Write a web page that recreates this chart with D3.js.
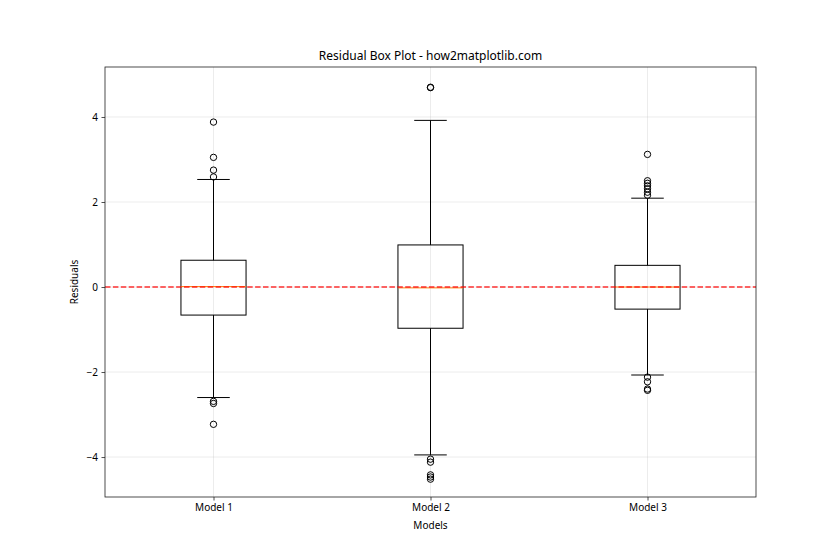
<!DOCTYPE html>
<html>
<head>
<meta charset="utf-8">
<script src="https://cdn.jsdelivr.net/npm/d3@7"></script>
<style>
  body { margin: 0; background: #fff; }
  text { font-family: "Noto Sans", "DejaVu Sans", sans-serif; fill: #000; }
</style>
</head>
<body>
<div id="chart"></div>
<script>
// box statistics
const models = ["Model 1", "Model 2", "Model 3"];
const q1 = [-0.66, -0.97, -0.52];
const medians = [0.01, -0.02, 0.0];
const q3 = [0.63, 0.99, 0.51];
const whiskLow = [-2.60, -3.95, -2.07];
const whiskHigh = [2.53, 3.92, 2.09];
const outliers = [
    [3.88, 3.05, 2.75, 2.59, -2.69, -2.74, -3.23],
    [4.69, 4.70, -4.05, -4.12, -4.42, -4.47, -4.52],
    [3.12, 2.50, 2.44, 2.38, 2.31, 2.23, 2.16, -2.12, -2.23, -2.40, -2.43]
];
const yTicks = [-4, -2, 0, 2, 4];

function drawBoxPlot() {
    let width = 840, height = 560;
    let margin = {top: 67, right: 84, bottom: 63, left: 105};
    let w = width - margin.left - margin.right;
    let h = height - margin.top - margin.bottom;

    let svg = d3.select('#chart')
        .append('svg')
        .attr('width', width)
        .attr('height', height)
        .append('g')
        .attr('transform', "translate(" + margin.left + "," + margin.top + ")");

    let x = d3.scaleLinear().domain([0.5, 3.5]).range([0, w]);
    let y = d3.scaleLinear().domain([-4.94, 5.176]).range([h, 0]);
    let boxW = x(0.3) - x(0);

    // grid
    svg.append('g').selectAll('line').data(yTicks).enter().append('line')
        .attr('x1', 0).attr('x2', w)
        .attr('y1', d => y(d)).attr('y2', d => y(d))
        .attr('stroke', '#b0b0b0').attr('stroke-opacity', 0.3).attr('stroke-width', 0.8);
    svg.append('g').selectAll('line').data([1, 2, 3]).enter().append('line')
        .attr('x1', d => x(d)).attr('x2', d => x(d))
        .attr('y1', 0).attr('y2', h)
        .attr('stroke', '#b0b0b0').attr('stroke-opacity', 0.3).attr('stroke-width', 0.8);

    let boxes = svg.selectAll('.box').data(models).enter().append('g').attr('class', 'box');

    // whiskers
    boxes.append('line')
        .attr('x1', (d, i) => x(i + 1)).attr('x2', (d, i) => x(i + 1))
        .attr('y1', (d, i) => y(q3[i])).attr('y2', (d, i) => y(whiskHigh[i]))
        .attr('stroke', 'black');
    boxes.append('line')
        .attr('x1', (d, i) => x(i + 1)).attr('x2', (d, i) => x(i + 1))
        .attr('y1', (d, i) => y(q1[i])).attr('y2', (d, i) => y(whiskLow[i]))
        .attr('stroke', 'black');
    // caps
    [whiskHigh, whiskLow].forEach(arr => {
        boxes.append('line')
            .attr('x1', (d, i) => x(i + 1) - boxW / 4).attr('x2', (d, i) => x(i + 1) + boxW / 4)
            .attr('y1', (d, i) => y(arr[i])).attr('y2', (d, i) => y(arr[i]))
            .attr('stroke', 'black');
    });
    // box
    boxes.append('rect')
        .attr('x', (d, i) => x(i + 1) - boxW / 2)
        .attr('y', (d, i) => y(q3[i]))
        .attr('width', boxW)
        .attr('height', (d, i) => y(q1[i]) - y(q3[i]))
        .attr('fill', 'none').attr('stroke', 'black');
    // median
    boxes.append('line')
        .attr('x1', (d, i) => x(i + 1) - boxW / 2).attr('x2', (d, i) => x(i + 1) + boxW / 2)
        .attr('y1', (d, i) => y(medians[i])).attr('y2', (d, i) => y(medians[i]))
        .attr('stroke', '#ff7f0e');
    // fliers
    boxes.each(function(d, i) {
        d3.select(this).selectAll('circle').data(outliers[i]).enter().append('circle')
            .attr('cx', x(i + 1)).attr('cy', v => y(v)).attr('r', 3.2)
            .attr('fill', 'none').attr('stroke', 'black').attr('stroke-width', 1);
    });

    // zero line
    svg.append('line')
        .attr('x1', 0).attr('x2', w)
        .attr('y1', y(0)).attr('y2', y(0))
        .attr('stroke', 'red').attr('stroke-opacity', 0.8)
        .attr('stroke-width', 1.5).attr('stroke-dasharray', '5.5,2.4');

    // axes
    let xAxis = svg.append('g')
        .attr('transform', "translate(0," + h + ")")
        .call(d3.axisBottom(x).tickValues([1, 2, 3]).tickFormat((d, i) => models[i]).tickSize(3.5).tickPadding(3.5));
    let yAxis = svg.append('g')
        .call(d3.axisLeft(y).tickValues(yTicks).tickFormat(d => d < 0 ? "\u2212" + Math.abs(d) : d).tickSize(3.5).tickPadding(3.5));
    [xAxis, yAxis].forEach(a => {
        a.select('.domain').remove();
        a.selectAll('text').style('font-size', '10px');
        a.selectAll('line').attr('stroke', '#222').attr('stroke-width', 0.8);
    });

    svg.append('rect')
        .attr('width', w).attr('height', h)
        .attr('fill', 'none').attr('stroke', '#222').attr('stroke-width', 0.8);

    svg.append('text')
        .attr('x', w / 2).attr('y', -7)
        .attr('text-anchor', 'middle')
        .style('font-size', '12px')
        .text("Residual Box Plot - how2matplotlib.com");
    svg.append('text')
        .attr('x', w / 2).attr('y', h + 32)
        .attr('text-anchor', 'middle')
        .style('font-size', '10px')
        .text("Models");
    svg.append('text')
        .attr('transform', "translate(-27," + (h / 2) + ") rotate(-90)")
        .attr('text-anchor', 'middle')
        .style('font-size', '10px')
        .text("Residuals");
}

drawBoxPlot();
</script>
</body>
</html>
